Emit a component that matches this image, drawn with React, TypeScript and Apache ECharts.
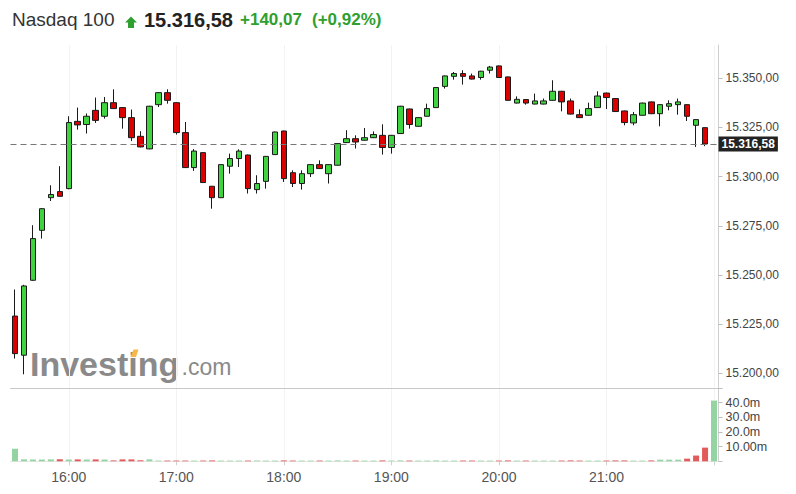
import React, { useEffect, useRef } from "react";
import * as echarts from "echarts";

// ---- data ----
const times: string[] = [];
for (let m = 15 * 60 + 30; m <= 22 * 60; m += 5) {
  times.push(`${Math.floor(m / 60)}:${String(m % 60).padStart(2, "0")}`);
}

const opens = [
  15229.1, 15209.2, 15247.3, 15272.7, 15289.3, 15292.4, 15293.9, 15328.1, 15326.5, 15333.7,
  15330.7, 15337.6, 15335.1, 15330.0, 15320.5, 15314.1, 15336.6, 15342.7, 15337.6, 15322.4,
  15304.6, 15312.2, 15295.1, 15289.3, 15305.3, 15309.2, 15311.0, 15293.4, 15297.6, 15311.2,
  15323.2, 15302.0, 15296.5, 15301.5, 15306.1, 15301.5, 15305.8, 15317.3, 15319.3, 15318.5,
  15319.8, 15321.0, 15314.8, 15321.9, 15334.4, 15325.6, 15330.7, 15335.1, 15345.9, 15351.0,
  15352.4, 15351.2, 15350.4, 15354.1, 15356.3, 15350.7, 15337.4, 15339.2, 15336.9, 15336.9,
  15338.8, 15343.4, 15338.5, 15331.5, 15331.2, 15335.1, 15342.5, 15339.7, 15333.4, 15327.3,
  15331.2, 15338.0, 15332.0, 15335.8, 15336.6, 15336.6, 15326.1, 15324.9,
];
const closes = [
  15210.0, 15244.4, 15268.5, 15283.7, 15290.9, 15290.0, 15327.5, 15326.3, 15330.7, 15328.6,
  15337.6, 15334.6, 15330.0, 15319.8, 15315.1, 15335.8, 15342.7, 15338.8, 15322.4, 15304.6,
  15313.0, 15297.0, 15289.3, 15306.1, 15309.2, 15313.0, 15293.9, 15296.5, 15310.3, 15322.7,
  15299.0, 15296.5, 15301.5, 15306.1, 15304.1, 15306.1, 15316.8, 15319.3, 15317.6, 15319.8,
  15321.4, 15314.8, 15321.0, 15335.8, 15326.5, 15330.0, 15334.6, 15345.3, 15351.2, 15352.4,
  15351.0, 15349.6, 15353.6, 15355.7, 15350.4, 15338.8, 15339.3, 15337.4, 15338.5, 15338.5,
  15343.4, 15338.0, 15331.8, 15330.0, 15334.6, 15341.0, 15340.2, 15333.1, 15327.5, 15331.5,
  15337.4, 15332.0, 15336.6, 15337.1, 15338.0, 15330.7, 15329.0, 15316.6,
];
const lows = [
  15207.5, 15199.5, 15247.0, 15268.5, 15287.6, 15289.8, 15293.6, 15323.9, 15321.9, 15327.3,
  15329.5, 15334.4, 15324.4, 15318.1, 15314.9, 15313.9, 15335.4, 15337.1, 15321.4, 15304.4,
  15302.9, 15296.8, 15283.7, 15289.1, 15301.5, 15304.9, 15291.4, 15291.4, 15293.9, 15311.0,
  15297.3, 15294.7, 15293.4, 15299.8, 15303.9, 15296.5, 15305.6, 15317.1, 15314.3, 15318.3,
  15319.6, 15311.2, 15311.7, 15321.7, 15324.4, 15325.4, 15330.5, 15334.9, 15344.8, 15349.3,
  15346.8, 15349.4, 15349.3, 15352.4, 15350.2, 15338.6, 15337.2, 15336.6, 15336.7, 15336.7,
  15338.6, 15333.2, 15331.6, 15329.8, 15331.0, 15334.9, 15334.4, 15332.9, 15326.1, 15326.1,
  15331.0, 15331.8, 15325.6, 15333.7, 15331.5, 15328.3, 15315.1, 15315.5,
];
const highs = [
  15242.6, 15245.0, 15275.3, 15284.0, 15295.6, 15305.3, 15330.7, 15335.1, 15332.1, 15340.2,
  15340.5, 15344.4, 15335.3, 15334.1, 15323.1, 15336.0, 15343.0, 15344.4, 15337.8, 15327.8,
  15314.0, 15312.4, 15295.3, 15306.3, 15311.7, 15313.9, 15311.2, 15300.7, 15310.5, 15322.9,
  15323.4, 15303.2, 15303.2, 15306.3, 15308.3, 15306.3, 15317.0, 15323.6, 15321.0, 15324.7,
  15323.0, 15326.6, 15321.2, 15336.0, 15334.6, 15330.2, 15337.1, 15345.5, 15351.4, 15353.2,
  15354.1, 15352.4, 15353.8, 15356.3, 15356.5, 15350.9, 15340.8, 15339.4, 15342.2, 15339.7,
  15349.0, 15343.6, 15339.7, 15334.2, 15337.6, 15343.4, 15342.7, 15339.9, 15333.6, 15332.9,
  15337.6, 15338.2, 15336.8, 15338.8, 15339.7, 15336.8, 15329.2, 15325.1,
];

// volume in millions (one per time slot, the last is the closing print)
const volumes = [
  8.6, 1.3, 1.2, 1.2, 1.3, 1.4, 1.2, 1.3, 1.2, 1.3,
  1.2, 0.6, 1.3, 1.3, 0.7, 1.3, 0.5, 0.5, 0.5, 0.5,
  0.5, 0.5, 0.6, 0.5, 0.5, 0.5, 0.5, 0.5, 0.5, 0.5,
  0.6, 0.5, 0.5, 0.5, 0.5, 0.5, 0.6, 0.5, 0.5, 0.5,
  0.5, 0.6, 0.5, 0.6, 0.5, 0.5, 0.5, 0.6, 0.5, 0.5,
  0.5, 0.5, 0.5, 0.5, 0.5, 0.6, 0.5, 0.5, 0.5, 0.5,
  0.5, 0.5, 0.6, 0.5, 0.5, 0.5, 0.5, 0.6, 0.6, 0.5,
  0.5, 0.6, 1.1, 1.1, 1.1, 1.8, 3.9, 9.3, 41.3,
];

const lastPrice = 15316.58;
const change = 140.07;
const changePct = 0.92;
const prevClose = lastPrice - change;

const priceTicks = [15200, 15225, 15250, 15275, 15300, 15325, 15350];

const fmt = (v: number) => {
  const [i, d] = v.toFixed(2).split(".");
  return i.replace(/\B(?=(\d{3})+(?!\d))/g, ".") + "," + d;
};

const FONT = "'Liberation Sans', Arial, sans-serif";

export default function App() {
  const ref = useRef<HTMLDivElement>(null);
  useEffect(() => {
    if (!ref.current) return;
    const chart = echarts.init(ref.current, undefined, { renderer: "svg" });

    const candleData = times.map((_, i) =>
      i < opens.length ? [opens[i], closes[i], lows[i], highs[i]] : "-"
    );
    const volData = volumes.map((v, i) => {
      const prev = i === 0 ? prevClose : closes[i - 1];
      const up = i >= closes.length ? true : closes[i] >= prev;
      return { value: v, itemStyle: { color: up ? "#94d3a2" : "#e25a5a" } };
    });
    const isHour = (_: number, val: string) => val.endsWith(":00");
    const isHourLabel = (idx: number, val: string) =>
      val.endsWith(":00") && idx < times.length - 1;

    chart.setOption({
      animation: false,
      textStyle: { fontFamily: FONT },
      grid: [
        { left: 10.5, right: 77.5, top: 45, height: 342.8 },
        { left: 10.5, right: 77.5, top: 387.8, height: 73.5 },
      ],
      xAxis: [
        {
          gridIndex: 0,
          type: "category",
          data: times,
          boundaryGap: true,
          axisLine: { show: false },
          axisTick: { show: false },
          axisLabel: { show: false },
          splitLine: {
            show: true,
            alignWithLabel: true,
            interval: isHour,
            lineStyle: { color: "#f3f3f3", width: 1 },
          },
        },
        {
          gridIndex: 1,
          type: "category",
          data: times,
          boundaryGap: true,
          position: "bottom",
          axisLine: { show: true, lineStyle: { color: "#e6e6e6" } },
          axisTick: {
            show: true,
            alignWithLabel: true,
            interval: isHour,
            length: 4,
            lineStyle: { color: "#d0d0d0" },
          },
          axisLabel: {
            interval: isHourLabel,
            color: "#555",
            fontSize: 14,
            margin: 9,
            fontFamily: FONT,
          },
          splitLine: {
            show: true,
            alignWithLabel: true,
            interval: isHour,
            lineStyle: { color: "#f3f3f3", width: 1 },
          },
        },
        {
          gridIndex: 1,
          type: "category",
          data: times,
          boundaryGap: true,
          position: "top",
          axisLine: { show: true, lineStyle: { color: "#c8c8c8" } },
          axisTick: { show: false },
          axisLabel: { show: false },
        },
      ],
      yAxis: [
        {
          gridIndex: 0,
          type: "value",
          position: "right",
          min: 15192.63,
          max: 15366.93,
          axisLine: { show: true, lineStyle: { color: "#cfcfcf" } },
          axisTick: {
            show: true,
            length: 4,
            customValues: priceTicks,
            lineStyle: { color: "#bdbdbd" },
          },
          axisLabel: {
            customValues: priceTicks,
            formatter: (v: number) => fmt(v),
            color: "#444",
            fontSize: 12,
            margin: 7,
            fontFamily: FONT,
          },
          splitLine: { show: false },
        },
        {
          gridIndex: 1,
          type: "value",
          position: "right",
          min: 0,
          max: 50,
          interval: 10,
          axisLine: { show: true, lineStyle: { color: "#cfcfcf" } },
          axisTick: { show: true, length: 4, lineStyle: { color: "#bdbdbd" } },
          axisLabel: {
            formatter: (v: number) =>
              v === 10 ? "10.00m" : v >= 20 && v <= 40 ? v.toFixed(1) + "m" : "",
            color: "#444",
            fontSize: 12.5,
            margin: 7,
            fontFamily: FONT,
          },
          splitLine: { show: false },
        },
      ],
      graphic: [
        {
          type: "text",
          z: 0,
          left: 30,
          top: 364.2 - 17,
          style: {
            text: "Investing",
            font: `bold 34px ${FONT}`,
            fill: "#8a8a8a",
          },
        },
        {
          type: "polygon",
          z: 1,
          shape: {
            points: [
              [130.5, 357],
              [133.5, 349.5],
              [138.5, 349.5],
              [136, 357],
            ],
          },
          style: { fill: "#f7b84b" },
        },
        {
          type: "text",
          z: 0,
          left: 181.5,
          top: 367 - 11.5,
          style: {
            text: ".com",
            font: `23px ${FONT}`,
            fill: "#8a8a8a",
          },
        },
        {
          type: "text",
          left: 12,
          top: 10,
          style: { text: "Nasdaq 100", font: `19px ${FONT}`, fill: "#333" },
        },
        {
          type: "polygon",
          shape: {
            points: [
              [131, 16.5],
              [137, 22.5],
              [134, 22.5],
              [134, 28],
              [128, 28],
              [128, 22.5],
              [125, 22.5],
            ],
          },
          style: { fill: "#2f9f2f" },
        },
        {
          type: "text",
          left: 144,
          top: 9.5,
          style: { text: fmt(lastPrice), font: `bold 20px ${FONT}`, fill: "#222" },
        },
        {
          type: "text",
          left: 240,
          top: 11,
          style: { text: "+" + fmt(change), font: `bold 17px ${FONT}`, fill: "#2f9f2f" },
        },
        {
          type: "text",
          left: 312,
          top: 11,
          style: {
            text: "(+" + changePct.toFixed(2).replace(".", ",") + "%)",
            font: `bold 17px ${FONT}`,
            fill: "#2f9f2f",
          },
        },
      ],
      series: [
        {
          type: "candlestick",
          xAxisIndex: 0,
          yAxisIndex: 0,
          data: candleData,
          barWidth: 6,
          itemStyle: {
            color: "#3fd43f",
            color0: "#dc0000",
            borderColor: "#1a1a1a",
            borderColor0: "#1a1a1a",
            borderWidth: 1,
          },
          markLine: {
            silent: true,
            symbol: "none",
            data: [{ yAxis: lastPrice }],
            lineStyle: { color: "#777", type: [6, 4], width: 1 },
            label: {
              position: "end",
              distance: 0,
              formatter: () => fmt(lastPrice),
              backgroundColor: "#222",
              color: "#fff",
              fontWeight: "bold",
              fontSize: 12,
              lineHeight: 12,
              padding: [2, 3, 1, 3],
              fontFamily: FONT,
            },
          },
        },
        {
          type: "bar",
          xAxisIndex: 1,
          yAxisIndex: 1,
          data: volData,
          barWidth: 6,
        },
      ],
    });
    return () => chart.dispose();
  }, []);

  return (
    <div
      ref={ref}
      style={{ position: "absolute", left: 0, top: 0, width: 796, height: 494, background: "#fff" }}
    />
  );
}
